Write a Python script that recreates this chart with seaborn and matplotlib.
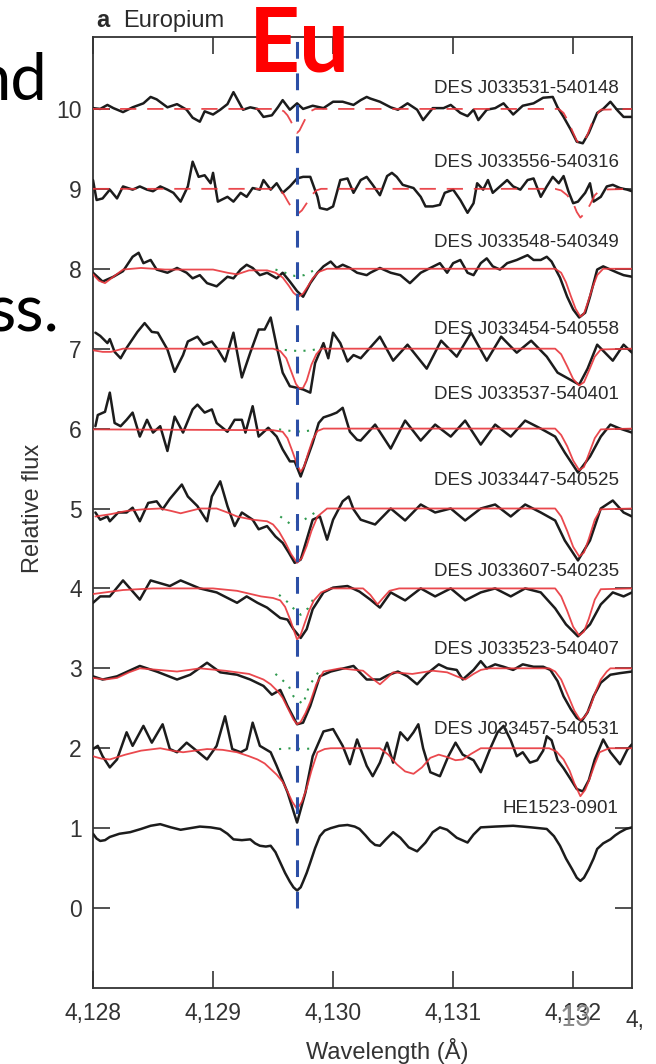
import numpy as np
import pandas as pd
import matplotlib
matplotlib.use("Agg")
import matplotlib.pyplot as plt
import seaborn as sns

sns.set_theme(style="white")
plt.rcParams['font.family'] = ['Liberation Sans', 'DejaVu Sans']

# ---------------- data ----------------
stars = ["DES J033531-540148", "DES J033556-540316", "DES J033548-540349",
         "DES J033454-540558", "DES J033537-540401", "DES J033447-540525",
         "DES J033607-540235", "DES J033523-540407", "DES J033457-540531",
         "HE1523-0901"]
offsets = [9, 8, 7, 6, 5, 4, 3, 2, 1, 0]
label_y = [10.25, 9.33, 8.33, 7.24, 6.43, 5.35, 4.21, 3.24, 2.24, 1.24]
upper_limit = [True, True, False, False, False, False, False, False, False, False]
eu_line = 4129.70
x_ticks = [4128, 4129, 4130, 4131, 4132]
x_tick_labels = ["4,128", "4,129", "4,130", "4,131", "4,132"]
y_ticks = [0, 1, 2, 3, 4, 5, 6, 7, 8, 9, 10]

# observed spectra (wavelength, normalised flux)
obs_531 = [(4128.00,1.01),(4128.06,1.00),(4128.12,1.05),(4128.17,1.01),(4128.25,0.96),(4128.33,1.02),(4128.42,1.07),(4128.48,1.15),(4128.53,1.12),(4128.62,1.02),(4128.70,1.06),(4128.78,0.99),(4128.83,0.89),(4128.89,0.84),(4128.93,0.97),(4129.00,0.93),(4129.06,0.99),(4129.12,1.06),(4129.17,1.21),(4129.21,1.10),(4129.25,0.99),(4129.31,1.02),(4129.37,1.00),(4129.42,0.90),(4129.49,0.92),(4129.54,1.02),(4129.58,1.11),(4129.64,0.99),(4129.70,1.07),(4129.75,1.00),(4129.83,1.04),(4129.92,1.01),(4130.00,1.09),(4130.08,1.09),(4130.17,1.05),(4130.23,1.11),(4130.28,1.15),(4130.31,1.13),(4130.39,1.09),(4130.48,1.02),(4130.54,0.99),(4130.62,1.07),(4130.70,0.99),(4130.75,0.86),(4130.83,1.01),(4130.92,1.01),(4130.98,1.05),(4131.06,0.95),(4131.12,0.91),(4131.17,0.99),(4131.21,0.86),(4131.28,0.99),(4131.35,1.01),(4131.42,1.07),(4131.50,0.93),(4131.58,1.04),(4131.67,1.07),(4131.75,1.14),(4131.83,1.15),(4131.87,1.02),(4131.92,0.90),(4131.98,0.74),(4132.03,0.59),(4132.08,0.57),(4132.13,0.70),(4132.20,0.95),(4132.25,1.00),(4132.31,1.09),(4132.37,0.98),(4132.42,0.90),(4132.49,0.90)]
obs_556 = [(4128.00,1.11),(4128.03,0.86),(4128.08,0.88),(4128.14,0.99),(4128.20,0.88),(4128.25,1.03),(4128.33,0.99),(4128.39,1.03),(4128.45,0.99),(4128.50,0.97),(4128.56,1.03),(4128.62,0.99),(4128.67,0.95),(4128.73,0.84),(4128.79,1.03),(4128.83,1.34),(4128.88,1.15),(4128.93,1.17),(4128.98,1.07),(4129.00,1.20),(4129.04,0.84),(4129.12,0.90),(4129.17,0.84),(4129.23,0.95),(4129.28,0.90),(4129.33,1.01),(4129.39,0.99),(4129.42,1.11),(4129.48,0.99),(4129.53,1.07),(4129.58,0.95),(4129.64,1.03),(4129.70,1.13),(4129.75,1.15),(4129.81,1.15),(4129.87,0.90),(4129.89,0.76),(4129.95,0.74),(4130.00,0.78),(4130.06,1.11),(4130.12,1.13),(4130.17,0.95),(4130.23,1.11),(4130.28,1.15),(4130.33,1.05),(4130.39,0.92),(4130.45,1.16),(4130.49,1.20),(4130.53,1.15),(4130.58,1.05),(4130.67,1.01),(4130.73,0.90),(4130.77,0.78),(4130.83,0.78),(4130.89,0.80),(4130.93,0.95),(4131.00,0.99),(4131.06,0.86),(4131.12,0.70),(4131.17,0.82),(4131.20,1.07),(4131.25,0.99),(4131.29,1.11),(4131.33,0.95),(4131.39,1.03),(4131.45,1.11),(4131.50,1.03),(4131.56,0.99),(4131.62,1.11),(4131.67,1.13),(4131.73,0.90),(4131.78,1.03),(4131.83,1.15),(4131.88,1.07),(4131.92,1.16),(4131.96,0.97),(4132.00,0.82),(4132.04,0.84),(4132.10,0.95),(4132.14,1.07),(4132.17,0.84),(4132.23,0.90),(4132.28,1.03),(4132.33,1.05),(4132.39,1.01),(4132.45,0.99),(4132.49,0.97)]
obs_548 = [(4128.00,0.95),(4128.08,0.84),(4128.17,0.90),(4128.25,0.97),(4128.33,1.15),(4128.38,1.20),(4128.42,1.07),(4128.48,1.11),(4128.53,0.99),(4128.62,0.95),(4128.70,1.01),(4128.78,0.95),(4128.83,0.88),(4128.89,0.92),(4128.95,0.82),(4129.03,0.78),(4129.12,0.90),(4129.17,0.88),(4129.23,0.99),(4129.28,1.05),(4129.33,1.01),(4129.39,0.92),(4129.45,0.95),(4129.53,0.88),(4129.58,0.95),(4129.64,0.84),(4129.70,0.72),(4129.75,0.65),(4129.81,0.82),(4129.87,0.95),(4129.92,1.03),(4129.98,1.09),(4130.03,1.01),(4130.08,1.05),(4130.14,1.01),(4130.20,0.95),(4130.28,0.92),(4130.31,0.95),(4130.39,1.01),(4130.48,0.95),(4130.56,0.92),(4130.64,0.82),(4130.73,0.95),(4130.81,1.01),(4130.89,1.07),(4130.95,0.95),(4131.00,1.07),(4131.06,1.11),(4131.12,0.95),(4131.17,0.92),(4131.23,1.07),(4131.28,1.13),(4131.33,1.03),(4131.39,0.99),(4131.45,1.07),(4131.53,1.11),(4131.62,1.17),(4131.67,1.11),(4131.73,1.11),(4131.78,1.15),(4131.82,1.09),(4131.89,0.89),(4131.95,0.65),(4132.00,0.49),(4132.05,0.39),(4132.10,0.45),(4132.14,0.65),(4132.20,0.99),(4132.25,1.03),(4132.31,0.99),(4132.37,0.95),(4132.42,0.92),(4132.49,0.90)]
obs_454 = [(4128.02,1.20),(4128.06,1.16),(4128.12,1.07),(4128.14,1.12),(4128.18,0.96),(4128.23,0.88),(4128.28,1.01),(4128.37,1.21),(4128.43,1.32),(4128.49,1.21),(4128.54,1.20),(4128.62,0.99),(4128.68,0.71),(4128.75,0.92),(4128.79,1.09),(4128.87,1.15),(4128.92,1.05),(4128.99,1.09),(4129.04,0.99),(4129.10,0.84),(4129.17,1.20),(4129.24,0.64),(4129.31,0.95),(4129.38,1.24),(4129.43,1.24),(4129.48,1.39),(4129.53,1.03),(4129.58,0.70),(4129.64,0.53),(4129.70,0.51),(4129.75,0.49),(4129.81,0.45),(4129.85,0.82),(4129.92,1.07),(4129.96,0.88),(4130.00,1.20),(4130.06,1.07),(4130.12,0.84),(4130.17,0.92),(4130.23,0.88),(4130.39,1.15),(4130.50,0.85),(4130.62,1.05),(4130.78,0.75),(4130.90,1.10),(4131.03,0.90),(4131.15,1.20),(4131.28,0.85),(4131.40,1.15),(4131.53,0.95),(4131.65,1.10),(4131.78,0.90),(4131.87,0.70),(4131.99,0.60),(4132.05,0.55),(4132.12,0.75),(4132.20,1.05),(4132.33,0.85),(4132.42,1.05),(4132.49,0.95)]
obs_537 = [(4128.02,1.03),(4128.04,1.17),(4128.10,1.21),(4128.14,1.45),(4128.18,1.07),(4128.23,1.03),(4128.28,1.11),(4128.33,1.20),(4128.39,0.90),(4128.45,1.11),(4128.50,0.95),(4128.56,1.03),(4128.62,0.72),(4128.68,1.15),(4128.75,0.95),(4128.83,1.24),(4128.87,1.30),(4128.93,1.20),(4128.99,1.24),(4129.03,1.07),(4129.12,0.96),(4129.18,1.11),(4129.24,1.11),(4129.27,0.95),(4129.33,1.28),(4129.38,0.90),(4129.46,1.01),(4129.53,0.90),(4129.58,0.74),(4129.64,0.59),(4129.68,0.59),(4129.73,0.40),(4129.77,0.57),(4129.83,0.82),(4129.88,1.07),(4129.92,1.14),(4129.98,1.17),(4130.03,1.20),(4130.08,1.26),(4130.14,0.96),(4130.20,0.86),(4130.23,0.85),(4130.35,1.05),(4130.48,0.75),(4130.60,1.10),(4130.73,0.85),(4130.85,1.05),(4130.98,0.90),(4131.10,1.10),(4131.23,0.80),(4131.35,1.05),(4131.48,0.90),(4131.60,1.10),(4131.73,1.00),(4131.85,0.90),(4131.93,0.70),(4132.04,0.45),(4132.14,0.65),(4132.23,0.90),(4132.31,1.05),(4132.39,1.00),(4132.49,0.95)]
obs_447 = [(4128.02,0.95),(4128.06,0.86),(4128.12,0.90),(4128.14,0.84),(4128.21,0.95),(4128.28,0.95),(4128.33,1.01),(4128.39,0.84),(4128.46,1.07),(4128.53,1.09),(4128.58,0.99),(4128.64,1.12),(4128.74,1.30),(4128.79,1.15),(4128.87,1.03),(4128.95,0.84),(4128.99,1.15),(4129.06,1.34),(4129.12,1.03),(4129.18,0.78),(4129.24,0.95),(4129.33,0.86),(4129.38,0.74),(4129.45,0.78),(4129.52,0.65),(4129.58,0.57),(4129.63,0.45),(4129.68,0.32),(4129.73,0.36),(4129.78,0.61),(4129.83,0.86),(4129.89,0.90),(4129.95,0.61),(4130.00,0.86),(4130.08,1.09),(4130.13,1.15),(4130.17,0.99),(4130.23,0.86),(4130.35,0.80),(4130.48,1.00),(4130.60,0.85),(4130.73,1.05),(4130.85,0.95),(4130.98,1.00),(4131.10,0.85),(4131.23,1.00),(4131.35,1.05),(4131.48,0.90),(4131.60,1.05),(4131.73,0.95),(4131.85,0.85),(4131.93,0.60),(4132.04,0.35),(4132.14,0.60),(4132.23,1.00),(4132.33,1.10),(4132.42,0.95),(4132.49,0.90)]
obs_607 = [(4128.00,0.82),(4128.06,0.90),(4128.14,0.90),(4128.25,1.10),(4128.39,0.86),(4128.48,1.10),(4128.64,1.03),(4128.73,1.10),(4128.89,1.00),(4129.03,0.95),(4129.20,0.82),(4129.28,0.90),(4129.37,0.82),(4129.45,0.76),(4129.56,0.63),(4129.62,0.61),(4129.67,0.49),(4129.73,0.38),(4129.78,0.49),(4129.83,0.74),(4129.92,0.95),(4130.00,1.01),(4130.12,1.03),(4130.22,0.96),(4130.31,0.86),(4130.39,0.76),(4130.48,0.95),(4130.60,0.85),(4130.73,1.00),(4130.85,0.90),(4130.98,1.00),(4131.10,0.85),(4131.23,0.95),(4131.35,1.00),(4131.48,0.90),(4131.60,1.00),(4131.73,0.95),(4131.85,0.75),(4131.94,0.55),(4132.04,0.40),(4132.14,0.55),(4132.23,0.80),(4132.33,0.95),(4132.42,0.90),(4132.49,0.95)]
obs_523 = [(4128.00,0.90),(4128.08,0.86),(4128.20,0.90),(4128.39,1.03),(4128.53,0.96),(4128.70,0.86),(4128.81,0.92),(4128.95,1.07),(4129.06,0.95),(4129.20,0.92),(4129.31,0.86),(4129.42,0.78),(4129.49,0.67),(4129.56,0.73),(4129.62,0.53),(4129.70,0.30),(4129.75,0.32),(4129.81,0.53),(4129.89,0.90),(4129.98,0.96),(4130.17,1.03),(4130.28,0.86),(4130.39,0.86),(4130.45,0.91),(4130.54,0.96),(4130.62,0.90),(4130.70,0.80),(4130.78,0.93),(4130.88,1.05),(4130.95,1.00),(4131.03,0.98),(4131.08,0.86),(4131.17,0.98),(4131.23,1.09),(4131.28,1.00),(4131.35,1.05),(4131.42,1.02),(4131.50,0.98),(4131.58,1.05),(4131.67,1.02),(4131.75,1.02),(4131.81,0.98),(4131.87,0.84),(4131.92,0.65),(4131.98,0.49),(4132.03,0.38),(4132.07,0.34),(4132.12,0.45),(4132.17,0.65),(4132.23,0.82),(4132.31,0.92),(4132.39,0.94),(4132.49,0.96)]
obs_457 = [(4128.00,0.99),(4128.04,1.03),(4128.08,0.90),(4128.14,0.76),(4128.20,0.86),(4128.28,1.20),(4128.33,1.03),(4128.42,1.28),(4128.49,1.07),(4128.58,1.30),(4128.64,0.99),(4128.70,0.95),(4128.78,1.07),(4128.87,0.96),(4128.95,0.86),(4129.03,1.03),(4129.10,1.40),(4129.16,0.99),(4129.23,0.95),(4129.28,0.99),(4129.33,1.32),(4129.39,1.03),(4129.48,0.95),(4129.53,0.78),(4129.62,0.45),(4129.70,0.07),(4129.77,0.45),(4129.83,0.90),(4129.92,1.21),(4130.00,1.24),(4130.08,1.03),(4130.14,0.80),(4130.20,1.11),(4130.28,0.78),(4130.33,0.65),(4130.39,0.82),(4130.45,1.07),(4130.50,0.82),(4130.56,1.20),(4130.62,1.10),(4130.67,1.20),(4130.71,1.30),(4130.75,1.00),(4130.81,0.70),(4130.89,0.65),(4130.96,0.90),(4131.02,1.07),(4131.08,0.92),(4131.17,0.85),(4131.23,0.70),(4131.31,1.00),(4131.37,1.20),(4131.42,1.28),(4131.48,1.10),(4131.53,0.90),(4131.58,0.95),(4131.64,0.82),(4131.70,0.85),(4131.75,0.97),(4131.78,1.15),(4131.82,1.10),(4131.87,0.85),(4131.92,0.75),(4131.98,0.61),(4132.03,0.49),(4132.08,0.46),(4132.13,0.60),(4132.18,0.86),(4132.25,1.11),(4132.31,0.95),(4132.39,0.80),(4132.45,0.98),(4132.49,1.05)]
obs_he = [(4128.00,0.93),(4128.03,0.87),(4128.06,0.84),(4128.10,0.85),(4128.14,0.89),(4128.22,0.93),(4128.31,0.95),(4128.40,0.99),(4128.48,1.03),(4128.56,1.05),(4128.65,1.01),(4128.73,0.98),(4128.81,1.00),(4128.89,1.02),(4128.98,1.01),(4129.06,0.99),(4129.12,0.93),(4129.17,0.86),(4129.24,0.85),(4129.31,0.86),(4129.35,0.81),(4129.39,0.78),(4129.44,0.77),(4129.48,0.78),(4129.52,0.70),(4129.56,0.57),(4129.60,0.44),(4129.64,0.33),(4129.67,0.26),(4129.70,0.22),(4129.73,0.26),(4129.75,0.33),(4129.78,0.44),(4129.81,0.57),(4129.85,0.75),(4129.89,0.90),(4129.93,0.97),(4129.98,1.00),(4130.05,1.03),(4130.12,1.04),(4130.18,1.02),(4130.22,0.99),(4130.27,0.91),(4130.31,0.84),(4130.35,0.79),(4130.39,0.78),(4130.44,0.86),(4130.50,0.95),(4130.56,0.88),(4130.63,0.76),(4130.70,0.71),(4130.77,0.82),(4130.83,0.95),(4130.89,1.01),(4130.95,0.98),(4131.03,0.88),(4131.12,0.82),(4131.17,0.92),(4131.23,1.01),(4131.35,1.02),(4131.50,1.03),(4131.65,1.01),(4131.78,0.99),(4131.84,0.90),(4131.89,0.78),(4131.94,0.62),(4131.99,0.49),(4132.03,0.38),(4132.06,0.34),(4132.09,0.38),(4132.13,0.49),(4132.17,0.62),(4132.20,0.74),(4132.25,0.81),(4132.31,0.86),(4132.35,0.91),(4132.39,0.95),(4132.44,0.99),(4132.49,1.01)]

# best-fit synthetic spectra (red)
fit_531 = [(4128.00,1.0),(4129.55,1.0),(4129.59,0.97),(4129.62,0.92),(4129.65,0.84),(4129.68,0.74),(4129.70,0.70),(4129.72,0.73),(4129.75,0.82),(4129.78,0.91),(4129.81,0.97),(4129.85,1.0),(4131.88,1.0),(4131.92,0.95),(4131.96,0.84),(4132.00,0.70),(4132.03,0.60),(4132.06,0.56),(4132.09,0.59),(4132.12,0.68),(4132.15,0.80),(4132.19,0.92),(4132.23,0.99),(4132.49,1.0)]
fit_556 = [(4128.00,1.0),(4129.55,1.0),(4129.59,0.93),(4129.62,0.85),(4129.66,0.75),(4129.70,0.68),(4129.74,0.73),(4129.78,0.82),(4129.82,0.92),(4129.86,0.98),(4129.90,1.0),(4131.85,1.0),(4131.90,0.98),(4131.95,0.92),(4132.00,0.82),(4132.03,0.71),(4132.06,0.64),(4132.10,0.70),(4132.14,0.80),(4132.18,0.92),(4132.23,0.99),(4132.49,1.0)]
fit_548 = [(4128.00,0.93),(4128.05,0.85),(4128.10,0.82),(4128.17,0.90),(4128.25,0.99),(4128.40,1.01),(4128.60,0.99),(4128.80,0.99),(4129.00,0.99),(4129.12,0.95),(4129.20,0.93),(4129.30,0.98),(4129.45,0.98),(4129.52,0.95),(4129.58,0.89),(4129.63,0.79),(4129.67,0.70),(4129.71,0.65),(4129.75,0.69),(4129.79,0.78),(4129.83,0.88),(4129.88,0.96),(4129.95,1.0),(4131.85,1.0),(4131.90,0.95),(4131.94,0.83),(4131.98,0.66),(4132.02,0.50),(4132.06,0.40),(4132.09,0.44),(4132.12,0.57),(4132.16,0.76),(4132.20,0.92),(4132.25,1.0),(4132.49,1.0)]
fit_454 = [(4128.00,0.98),(4128.08,0.96),(4128.15,0.96),(4128.25,1.0),(4129.50,1.0),(4129.56,0.97),(4129.61,0.88),(4129.65,0.72),(4129.69,0.56),(4129.72,0.50),(4129.75,0.51),(4129.78,0.60),(4129.82,0.80),(4129.86,0.93),(4129.90,1.0),(4131.85,1.0),(4131.90,0.93),(4131.95,0.78),(4132.00,0.62),(4132.05,0.54),(4132.09,0.58),(4132.13,0.72),(4132.18,0.90),(4132.23,0.99),(4132.49,1.0)]
fit_537 = [(4128.00,0.99),(4129.50,0.98),(4129.58,0.96),(4129.62,0.88),(4129.66,0.72),(4129.70,0.55),(4129.73,0.46),(4129.76,0.53),(4129.79,0.68),(4129.83,0.86),(4129.87,0.97),(4129.92,1.0),(4131.85,1.0),(4131.90,0.92),(4131.95,0.78),(4132.00,0.60),(4132.05,0.48),(4132.09,0.52),(4132.13,0.68),(4132.18,0.88),(4132.23,0.99),(4132.49,1.0)]
fit_447 = [(4128.02,0.90),(4128.15,0.93),(4128.28,0.97),(4128.42,0.99),(4128.56,1.0),(4128.65,0.97),(4128.73,0.94),(4128.81,0.97),(4128.89,1.0),(4129.03,1.0),(4129.12,0.95),(4129.20,0.90),(4129.33,0.86),(4129.45,0.84),(4129.50,0.80),(4129.55,0.71),(4129.60,0.58),(4129.65,0.43),(4129.70,0.32),(4129.74,0.38),(4129.78,0.53),(4129.82,0.72),(4129.87,0.90),(4129.95,1.0),(4131.85,1.0),(4131.90,0.90),(4131.95,0.72),(4132.00,0.52),(4132.05,0.40),(4132.09,0.45),(4132.13,0.62),(4132.18,0.86),(4132.23,0.99),(4132.49,1.0)]
fit_607 = [(4128.00,0.93),(4128.25,0.98),(4128.50,1.0),(4129.00,1.0),(4129.20,0.97),(4129.40,0.90),(4129.50,0.88),(4129.56,0.85),(4129.60,0.77),(4129.64,0.62),(4129.67,0.49),(4129.70,0.36),(4129.73,0.42),(4129.76,0.55),(4129.80,0.72),(4129.84,0.85),(4129.90,0.95),(4129.98,1.0),(4130.25,1.0),(4130.31,0.92),(4130.37,0.80),(4130.41,0.87),(4130.47,0.97),(4130.55,1.0),(4131.85,1.0),(4131.90,0.90),(4131.95,0.72),(4132.00,0.52),(4132.05,0.41),(4132.09,0.46),(4132.13,0.62),(4132.18,0.86),(4132.23,0.99),(4132.49,1.0)]
fit_523 = [(4128.00,0.88),(4128.10,0.86),(4128.20,0.88),(4128.30,0.95),(4128.39,1.0),(4128.55,0.98),(4128.70,0.96),(4128.80,0.98),(4128.89,1.0),(4129.10,0.97),(4129.30,0.93),(4129.42,0.86),(4129.48,0.80),(4129.54,0.71),(4129.58,0.63),(4129.63,0.48),(4129.67,0.36),(4129.70,0.30),(4129.73,0.33),(4129.77,0.44),(4129.81,0.58),(4129.86,0.80),(4129.92,0.96),(4130.06,1.0),(4130.25,0.97),(4130.32,0.88),(4130.39,0.80),(4130.45,0.88),(4130.50,0.95),(4130.66,0.93),(4130.83,0.97),(4130.95,0.95),(4131.03,0.90),(4131.10,0.86),(4131.17,0.93),(4131.23,0.98),(4131.30,1.0),(4131.80,1.0),(4131.85,0.96),(4131.90,0.86),(4131.96,0.65),(4132.01,0.47),(4132.06,0.35),(4132.10,0.40),(4132.14,0.51),(4132.19,0.72),(4132.23,0.86),(4132.28,0.96),(4132.31,1.0),(4132.49,1.0)]
fit_457 = [(4128.00,0.90),(4128.07,0.87),(4128.14,0.86),(4128.27,0.92),(4128.40,0.97),(4128.56,1.0),(4128.66,0.97),(4128.75,0.95),(4128.85,0.97),(4128.95,0.99),(4129.08,0.98),(4129.20,0.95),(4129.30,0.90),(4129.37,0.86),(4129.43,0.81),(4129.48,0.74),(4129.53,0.67),(4129.58,0.58),(4129.62,0.46),(4129.66,0.33),(4129.70,0.24),(4129.74,0.33),(4129.78,0.50),(4129.82,0.72),(4129.87,0.95),(4129.93,0.99),(4129.98,1.0),(4130.39,1.0),(4130.46,0.92),(4130.53,0.80),(4130.60,0.71),(4130.67,0.68),(4130.74,0.76),(4130.81,0.88),(4130.88,0.92),(4130.95,0.89),(4131.02,0.85),(4131.08,0.86),(4131.15,0.93),(4131.23,1.0),(4131.80,1.0),(4131.86,0.96),(4131.92,0.86),(4131.97,0.72),(4132.01,0.56),(4132.06,0.40),(4132.10,0.48),(4132.14,0.63),(4132.18,0.80),(4132.22,0.95),(4132.30,1.0),(4132.49,1.0)]

# synthetic spectra with lower Eu (green dotted)
alt_548 = [(4129.52,0.99),(4129.60,0.95),(4129.68,0.91),(4129.76,0.92),(4129.84,0.98)]
alt_454 = [(4129.52,1.0),(4129.62,0.98),(4129.72,0.97),(4129.82,0.98),(4129.88,1.0)]
alt_537 = [(4129.55,0.99),(4129.65,0.97),(4129.75,0.96),(4129.85,0.99)]
alt_447 = [(4129.56,0.90),(4129.65,0.80),(4129.75,0.85),(4129.85,0.95)]
alt_607 = [(4129.55,0.92),(4129.62,0.83),(4129.67,0.75),(4129.73,0.67),(4129.79,0.75),(4129.84,0.88)]
alt_523 = [(4129.52,0.93),(4129.58,0.85),(4129.63,0.78),(4129.67,0.65),(4129.75,0.55),(4129.80,0.78),(4129.89,0.98)]
alt_457 = [(4129.55,0.99),(4129.65,1.0),(4129.75,0.99),(4129.85,1.0)]

observed = [obs_531, obs_556, obs_548, obs_454, obs_537, obs_447, obs_607, obs_523, obs_457, obs_he]
fits = [fit_531, fit_556, fit_548, fit_454, fit_537, fit_447, fit_607, fit_523, fit_457, None]
alts = [None, None, alt_548, alt_454, alt_537, alt_447, alt_607, alt_523, alt_457, None]

# ---------------- build long table ----------------
rows = []
for i, star in enumerate(stars):
    for kind, series in (("obs", observed[i]), ("fit", fits[i]), ("alt", alts[i])):
        if series is None:
            continue
        for wl, fl in series:
            rows.append(dict(star=star, kind=kind, wl=wl, flux=fl + offsets[i]))
df = pd.DataFrame(rows)

# ---------------- figure ----------------
W, H = 656, 1064
fig = plt.figure(figsize=(W / 100, H / 100), dpi=100)
fig.patch.set_facecolor("white")
ax = fig.add_axes([93 / W, 1 - 988 / H, (632 - 93) / W, (988 - 37) / H])
ax.set_facecolor("white")

BLACK = "#1c1c1c"
RED = "#e8353b"
GREEN = "#2f9a4f"
BLUE = "#2c4fa6"

for i, star in enumerate(stars):
    sub = df[(df.star == star) & (df.kind == "obs")]
    sns.lineplot(data=sub, x="wl", y="flux", ax=ax, sort=False, estimator=None,
                 color=BLACK, lw=1.8, legend=False, zorder=3)
    ax.lines[-1].set_solid_joinstyle("round")
    sub = df[(df.star == star) & (df.kind == "alt")]
    if len(sub):
        sns.lineplot(data=sub, x="wl", y="flux", ax=ax, sort=False, estimator=None,
                     color=GREEN, lw=1.5, legend=False, zorder=2)
        ax.lines[-1].set_dashes((1, 3.5))
    sub = df[(df.star == star) & (df.kind == "fit")]
    if len(sub):
        sns.lineplot(data=sub, x="wl", y="flux", ax=ax, sort=False, estimator=None,
                     color=RED, lw=1.3, alpha=0.9, legend=False, zorder=4)
        if upper_limit[i]:
            ax.lines[-1].set_dashes((9, 6))
        else:
            ax.lines[-1].set_solid_joinstyle("round")
    ax.text(4132.38, label_y[i], star, ha="right", va="center", fontsize=13.5,
            color="#2a2a2a", zorder=5)

# Eu line marker
ax.plot([eu_line, eu_line], [0, 10.9], color=BLUE, lw=2.2, dashes=(5.5, 4.8), zorder=6)

ax.set_xlim(4128, 4132.49)
ax.set_ylim(-1, 10.9)
ax.set_xticks(x_ticks)
ax.set_xticklabels(x_tick_labels)
ax.set_yticks(y_ticks)
ax.tick_params(direction="in", length=12, width=1.2, colors="#333333",
               labelsize=16.5, labelcolor="#333333", top=True, right=True,
               bottom=True, left=True)
ax.tick_params(axis="y", pad=8)
ax.tick_params(axis="x", pad=10)
ax.set_xlabel("")
ax.set_ylabel("")
for sp in ax.spines.values():
    sp.set_visible(True)
    sp.set_color("#333333")
    sp.set_linewidth(1.3)
ax.grid(False)

# axis labels
fig.text(33 / W, 1 - 508 / H, "Relative flux", rotation=90, ha="center", va="center",
         fontsize=17, color="#333333")
fig.text(387 / W, 1 - 1051 / H, "Wavelength (Å)", ha="center", va="center",
         fontsize=17, color="#333333")
# panel title
fig.text(96 / W, 1 - 27 / H, "a", ha="left", va="baseline", fontsize=17,
         fontweight="bold", color="#2a2a2a")
fig.text(123 / W, 1 - 27 / H, "Europium", ha="left", va="baseline", fontsize=17,
         color="#2a2a2a")
# cut-off neighbouring tick label
fig.text(625 / W, 1 - 1020 / H, "4,", ha="left", va="center", fontsize=16.5,
         color="#333333")

# slide overlay text
fig.text(249 / W, 1 - 72 / H, "Eu", ha="left", va="baseline", fontsize=64,
         fontweight="bold", color="#ff0000", family=["Lato", "DejaVu Sans"])
fig.text(47 / W, 1 - 100 / H, "nd", ha="right", va="baseline", fontsize=47,
         color="black", family=["Lato", "DejaVu Sans"])
fig.text(60 / W, 1 - 331 / H, "ss.", ha="right", va="baseline", fontsize=47,
         color="black", family=["Lato", "DejaVu Sans"])
fig.text(576 / W, 1 - 1026 / H, "13", ha="center", va="baseline", fontsize=20,
         color="#8c8c8c", family=["Lato", "DejaVu Sans"])

fig.savefig("out.png", dpi=100)
